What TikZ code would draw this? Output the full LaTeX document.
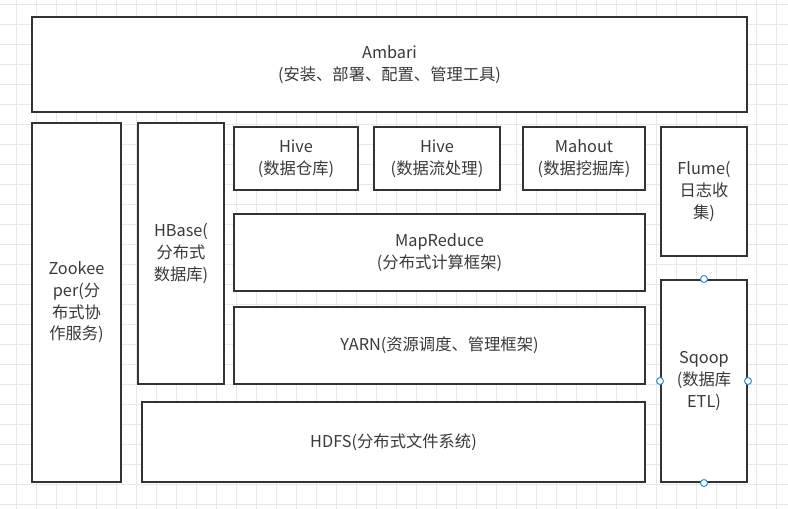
\documentclass[tikz,border=0pt]{standalone}
\usepackage{fontspec}
\setmainfont{Noto Sans CJK SC}
\definecolor{edge}{HTML}{333333}
\definecolor{txt}{HTML}{3A3A3A}
\definecolor{gridc}{HTML}{E8E8E8}
\definecolor{handle}{HTML}{2E8CF0}
\begin{document}
\begin{tikzpicture}[x=1pt,y=-1pt,
  box/.style={draw=edge, line width=2pt, fill=white, rectangle, inner sep=0pt,
    align=center, text=txt, font=\fontsize{16.3}{21.7}\selectfont},
  hdl/.style={draw=handle, fill=white, line width=1pt, circle, inner sep=0pt, minimum size=7pt}]
\useasboundingbox (0,0) rectangle (788,509);
% grid
\foreach \gx in {16.5,36.5,...,788} \draw[gridc, line width=1pt] (\gx,0) -- (\gx,509);
\foreach \gy in {4,24,...,509} \draw[gridc, line width=1pt] (0,\gy) -- (788,\gy);
% boxes
\node[box, minimum width=715pt, minimum height=95pt] (ambari) at (389.5,64.5) {Ambari\\(安装、部署、配置、管理工具)};
\node[box, minimum width=89pt, minimum height=359pt] (zk) at (76.5,302.5) {Zookee\\per(分\\布式协\\作服务)};
\node[box, minimum width=86pt, minimum height=261pt] (hbase) at (181,253.5) {HBase(\\分布式\\数据库)};
\node[box, minimum width=124pt, minimum height=63pt] (hive1) at (296,158.5) {Hive\\(数据仓库)};
\node[box, minimum width=126pt, minimum height=63pt] (hive2) at (437,158.5) {Hive\\(数据流处理)};
\node[box, minimum width=122pt, minimum height=63pt] (mahout) at (584,158.5) {Mahout\\(数据挖掘库)};
\node[box, minimum width=86pt, minimum height=129pt] (flume) at (704,191.5) {Flume(\\日志收\\集)};
\node[box, minimum width=411pt, minimum height=77pt] (mr) at (439.5,252.5) {MapReduce\\(分布式计算框架)};
\node[box, minimum width=411pt, minimum height=77pt] (yarn) at (439.5,345.5) {YARN(资源调度、管理框架)};
\node[box, minimum width=503pt, minimum height=80pt] (hdfs) at (393.5,442) {HDFS(分布式文件系统)};
\node[box, minimum width=86pt, minimum height=202pt] (sqoop) at (704,381) {Sqoop\\(数据库\\ETL)};
% selection handles on Sqoop
\node[hdl] (hn) at (sqoop.north) {};
\node[hdl] (hs) at (sqoop.south) {};
\node[hdl] (hw) at (sqoop.west) {};
\node[hdl] (he) at (sqoop.east) {};
\end{tikzpicture}
\end{document}
